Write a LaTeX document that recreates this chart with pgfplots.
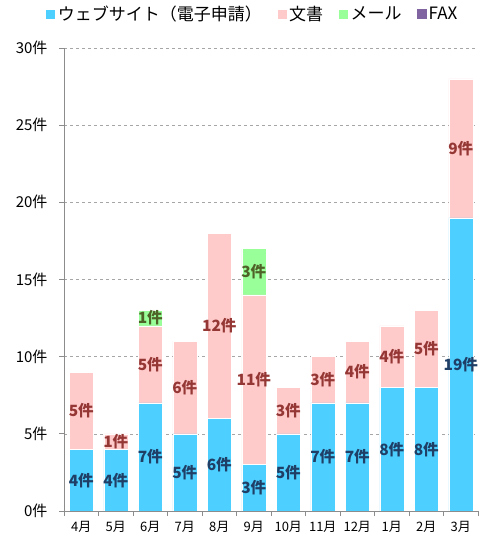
\documentclass[border=0pt]{standalone}
\usepackage{fontspec}
\setmainfont{Noto Sans CJK JP}
\usepackage{pgfplots}
\pgfplotsset{compat=1.18}
\usepackage{pgfplotstable}
\usetikzlibrary{calc}

\definecolor{webc}{HTML}{4DCFFF}
\definecolor{docc}{HTML}{FFCACA}
\definecolor{mailc}{HTML}{99FF99}
\definecolor{faxc}{HTML}{8064A2}
\definecolor{webl}{HTML}{1F3F66}
\definecolor{docl}{HTML}{953735}
\definecolor{maill}{HTML}{4F6228}
\definecolor{axc}{HTML}{8C8C8C}

% 受付件数（月別）
\pgfplotstableread{
x web doc mail fax
0 4 5 0 0
1 4 1 0 0
2 7 5 1 0
3 5 6 0 0
4 6 12 0 0
5 3 11 3 0
6 5 3 0 0
7 7 3 0 0
8 7 4 0 0
9 8 4 0 0
10 8 5 0 0
11 19 9 0 0
}\data

\begin{document}
\begin{tikzpicture}
\begin{axis}[
    name=ax,
    scale only axis,
    x=34.5pt, y=15.433pt,
    xmin=-0.5, xmax=11.5,
    ymin=0, ymax=30,
    ybar stacked,
    bar width=24pt,
    axis x line*=bottom,
    axis y line*=left,
    axis line style={axc, line width=0.8pt},
    xtick={0,...,11},
    xticklabels={4月,5月,6月,7月,8月,9月,10月,11月,12月,1月,2月,3月},
    major x tick style={draw=none},
    minor xtick={-0.5,0.5,...,11.5},
    minor x tick style={axc, line width=0.8pt},
    minor tick length=5pt,
    x tick label style={font=\fontsize{13}{13}\selectfont, yshift=-2pt},
    ytick={0,5,...,30},
    yticklabel={\pgfmathprintnumber[assume math mode=true]{\tick}件},
    y tick label style={font=\fontsize{15}{15}\selectfont, xshift=-8pt},
    major y tick style={axc, line width=0.8pt},
    major tick length=5pt,
    tick align=outside,
    ymajorgrids,
    grid style={gray!70, dashed, line width=0.5pt},
    visualization depends on=rawy \as \rawy,
    nodes near coords={\ifdim\rawy pt>0pt \pgfmathprintnumber[assume math mode=true]{\rawy}件\fi},
    every node near coord/.append style={anchor=center, font=\fontsize{15.5}{15.5}\selectfont\bfseries},
    legend columns=-1,
    legend style={draw=none, fill=none, at={(0.455,1.047)}, anchor=south,
        font=\fontsize{17}{17}\selectfont,
        /tikz/every even column/.append style={column sep=13pt}},
    legend image code/.code={\fill[#1] (0pt,-5pt) rectangle (10pt,5pt);},
]
\addplot[fill=webc, draw=white, line width=0.4pt, nodes near coords style={text=webl}] table[x=x, y=web] {\data};
\addplot[fill=docc, draw=white, line width=0.4pt, nodes near coords style={text=docl}] table[x=x, y=doc] {\data};
\addplot[fill=mailc, draw=white, line width=0.4pt, nodes near coords style={text=maill}] table[x=x, y=mail] {\data};
\addplot[fill=faxc, draw=none, nodes near coords style={text=white}] table[x=x, y=fax] {\data};
\legend{ウェブサイト（電子申請）,文書,メール,FAX}
\end{axis}
\pgfresetboundingbox
\useasboundingbox ($(ax.south west)+(-64pt,-29pt)$) rectangle ($(ax.north east)+(3pt,48pt)$);
\end{tikzpicture}
\end{document}
